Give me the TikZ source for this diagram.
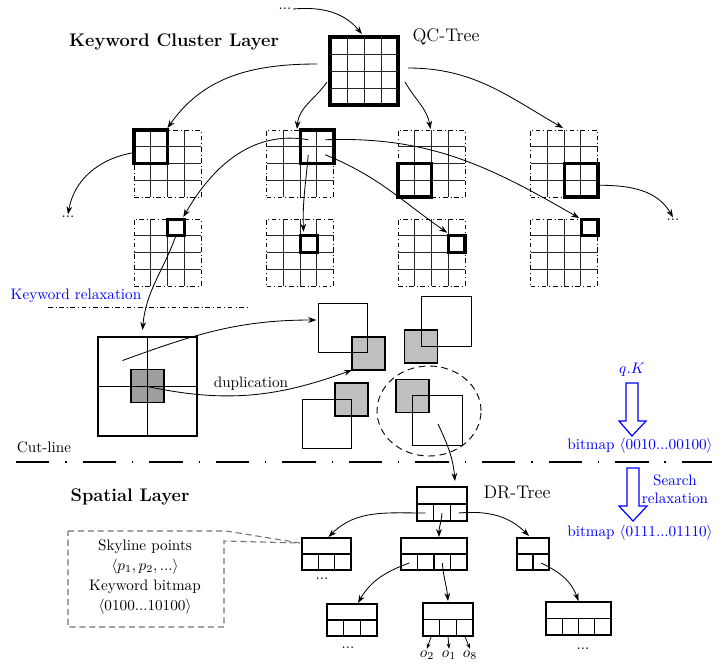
\documentclass[tikz,border=0pt]{standalone}
\usetikzlibrary{arrows.meta,calc,shapes.geometric}
\def\PX{0.658pt}
\tikzset{
  arr/.style={-{Stealth[length=5.3pt,width=3.8pt]}, line width=0.55pt},
  arrsmall/.style={-{Stealth[length=3.5pt,width=2.6pt]}, line width=0.5pt},
  gline/.style={line width=0.6pt, black!85},
  gbox/.style={draw, dashdotted, line width=0.6pt, minimum size=67*\PX, inner sep=0pt, outer sep=0pt},
  qcbox/.style={draw, line width=2pt, minimum size=68*\PX, inner sep=0pt, outer sep=0pt},
  tsq/.style={draw, line width=2pt, minimum size=33.5*\PX, inner sep=0pt, outer sep=0pt},
  csq/.style={draw, line width=2pt, minimum size=16.75*\PX, inner sep=0pt, outer sep=0pt},
  bsbox/.style={draw, line width=1.4pt, minimum size=99*\PX, inner sep=0pt, outer sep=0pt},
  gsq/.style={draw, fill=black!25, line width=0.7pt, minimum size=33*\PX, inner sep=0pt, outer sep=0pt},
  wsq/.style={draw, line width=0.7pt, minimum size=49.5*\PX, inner sep=0pt, outer sep=0pt},
  drbox/.style={draw, line width=0.7pt, inner sep=0pt, outer sep=0pt},
  dotsnode/.style={inner sep=1pt},
  callout/.style={draw=black!55, dash pattern=on 4pt off 2.5pt, line width=0.7pt},
  cutline/.style={line width=0.8pt, dash pattern=on 22pt off 10.5pt on 0.8pt off 10.5pt},
  hollow/.style={draw=blue, line width=0.8pt},
}
\newcommand\qgridlines[1]{%
  \foreach \k in {0.25,0.5,0.75}{%
    \draw[gline] ($(#1.north west)!\k!(#1.north east)$) -- ($(#1.south west)!\k!(#1.south east)$);
    \draw[gline] ($(#1.north west)!\k!(#1.south west)$) -- ($(#1.north east)!\k!(#1.south east)$);
  }}
\newcommand\drcells[2]{%
  \draw[line width=0.7pt] (#1.west) -- (#1.east);
  \pgfmathtruncatemacro\drm{#2-1}%
  \foreach \k in {1,...,\drm}{%
    \draw[line width=0.7pt] ($(#1.south west)!{\k/#2}!(#1.south east)$) -- ($(#1.west)!{\k/#2}!(#1.east)$);
  }}
\begin{document}
\begin{tikzpicture}[x=0.658pt,y=-0.658pt]
\useasboundingbox (0,0) rectangle (723,663);

% ---------- Keyword cluster layer ----------
\node[font=\large\bfseries] (kcl) at (174,42) {Keyword Cluster Layer};
\node[font=\large] (qct) at (446,37) {QC-Tree};
\node[dotsnode] (dtop) at (285,9) {...};

\node[qcbox] (qc) at (364,71) {};
\qgridlines{qc}

% level 1 grids
\node[gbox] (g1) at (167.5,163.5) {};
\node[gbox] (g2) at (300,163.5) {};
\node[gbox] (g3) at (431.5,163.5) {};
\node[gbox] (g4) at (564,163.5) {};
\qgridlines{g1}\qgridlines{g2}\qgridlines{g3}\qgridlines{g4}
\node[tsq] (t1) at (150.75,146.75) {};
\node[tsq] (t2) at (317.25,146.75) {};
\node[tsq] (t3) at (414.75,180.25) {};
\node[tsq] (t4) at (581.25,180.25) {};

% level 2 grids
\node[gbox] (h1) at (167.5,252.5) {};
\node[gbox] (h2) at (300,252.5) {};
\node[gbox] (h3) at (431.5,252.5) {};
\node[gbox] (h4) at (564,252.5) {};
\qgridlines{h1}\qgridlines{h2}\qgridlines{h3}\qgridlines{h4}
\node[csq] (c1) at (175.9,227.4) {};
\node[csq] (c2) at (308.9,244.1) {};
\node[csq] (c3) at (456.6,244.1) {};
\node[csq] (c4) at (589.6,227.4) {};

\node[dotsnode] (dleft) at (68,217) {...};
\node[dotsnode] (dright) at (673,220) {...};

% arrows keyword layer
\draw[arr] (dtop.east) to[out=5,in=130] ($(qc.north)+(-2,-3)$);
\draw[arr] ($(qc.west)+(-13,-7)$) to[out=180,in=55] ($(t1.north east)+(0,-2)$);
\draw[arr] ($(qc.west)+(-3,11)$) to[out=235,in=85] ($(g2.north)+(-3,-1)$);
\draw[arr] ($(qc.east)+(7,11)$) to[out=-60,in=100] ($(g3.north)+(-1,-1)$);
\draw[arr] ($(qc.east)+(10,-3)$) to[out=0,in=150] ($(g4.north)+(-1,-2)$);

\draw[arr] ($(t1.west)+(-1,6)$) to[out=190,in=80] (dleft.north);
\draw[arr] ($(t4.east)+(1,5)$) to[out=0,in=120] (dright.north);

\coordinate (t2a) at ($(t2.center)+(-9,-7)$);
\coordinate (t2b) at ($(t2.center)+(8,-7)$);
\coordinate (t2c) at ($(t2.center)+(-9,8)$);
\coordinate (t2d) at ($(t2.center)+(8,8)$);
\draw[arr] (t2a) to[out=170,in=60] ($(c1.north east)+(-1,-2)$);
\draw[arr] (t2c) to[out=-95,in=92] ($(c2.north west)+(3,-4)$);
\draw[arr] (t2b) to[out=2,in=150] ($(c4.north west)+(-2,-1)$);
\draw[arr] (t2d) to[out=-22,in=145] ($(c3.north west)+(-1,-3)$);

% keyword relaxation
\node[blue] (kr) at (76,296) {Keyword relaxation};
\coordinate (kl1) at (48,307);
\coordinate (kl2) at (247,307);
\draw[dashdotted, line width=0.55pt] (kl1) -- (kl2);

% big square
\node[bsbox] (bs) at (147.5,386.5) {};
\node[draw, fill=black!38, line width=0.7pt, minimum size=33*\PX, inner sep=0pt] (bsg) at (147.5,386) {};
\draw[line width=0.6pt] (bs.north) -- (bs.south);
\draw[line width=0.6pt] (bs.west) -- (bs.east);
\draw[arr] (c1.south) to[out=250,in=85] ($(bs.north)+(-5,-7)$);

% duplicated squares
\node[gsq] (sqAg) at (368.5,353.5) {};
\node[wsq] (sqA) at (343,328) {};
\node[gsq] (sqBg) at (421,346.5) {};
\node[wsq] (sqB) at (446.5,321.5) {};
\node[gsq] (sqCg) at (351.5,399.5) {};
\node[wsq] (sqC) at (327,424) {};
\node[gsq] (sqDg) at (412.5,396) {};
\node[wsq] (sqD) at (437.5,420.5) {};
\node[ellipse, draw, dash pattern=on 4.5pt off 3pt, line width=0.6pt, minimum width=104*\PX, minimum height=90*\PX, inner sep=0pt] (ell) at (429,411) {};

\draw[arr] ($(bs.center)+(-25,-26)$) to[out=20,in=180] ($(sqA.west)+(-2,-8)$);
\draw[arr] (bs.center) to[out=-12,in=200] (sqAg.south west);
\node (dup) at (251,384) {duplication};

% cut line
\node (cut) at (44,447) {Cut-line};
\coordinate (cl1) at (16,462);
\coordinate (cl2) at (712,462);
\draw[cutline] (cl1) -- (cl2);

% blue query side
\node[blue] (qk) at (632,370) {$q.K$};
\node[blue] (bm1) at (640,446) {bitmap $\langle$0010...00100$\rangle$};
\node[blue, align=center] (sr) at (675,489) {Search\\relaxation};
\node[blue] (bm2) at (640,533) {bitmap $\langle$0111...01110$\rangle$};
\draw[hollow] (626,383) -- (638,383) -- (638,421) -- (646,421) -- (632,436) -- (619,421) -- (626,421) -- cycle;
\draw[hollow] (627,468) -- (639,468) -- (639,506) -- (647,506) -- (633,521) -- (619,506) -- (627,506) -- cycle;

% ---------- Spatial layer ----------
\node[font=\large\bfseries] (sl) at (130,497) {Spatial Layer};
\node[font=\large] (drt) at (517,492) {DR-Tree};

\node[drbox, minimum width=50*\PX, minimum height=34*\PX] (root) at (442,504) {};
\node[drbox, minimum width=49*\PX, minimum height=32*\PX] (n1) at (326.5,554) {};
\node[drbox, minimum width=66*\PX, minimum height=32*\PX] (n2) at (434,554) {};
\node[drbox, minimum width=32*\PX, minimum height=32*\PX] (n3) at (533,554) {};
\node[drbox, minimum width=50*\PX, minimum height=32*\PX] (m1) at (352,620) {};
\node[drbox, minimum width=50*\PX, minimum height=33*\PX] (m2) at (448,619.5) {};
\node[drbox, minimum width=65*\PX, minimum height=33*\PX] (m3) at (578.5,618.5) {};
\drcells{root}{3}
\drcells{n1}{3}
\drcells{n2}{4}
\drcells{n3}{2}
\drcells{m1}{3}
\drcells{m2}{3}
\drcells{m3}{4}

\draw[arr] ($(sqD.center)+(0.5,3.5)$) to[out=-65,in=95] ($(root.north)+(13,-6)$);

\draw[arr] ($(root.south west)!{1/6}!(root.south east)+(0,-8)$) to[out=180,in=45] ($(n1.north)+(2,-1)$);
\draw[arr] ($(root.south west)!{1/2}!(root.south east)+(0,-8)$) to[out=-95,in=90] ($(n2.north)+(5,-1)$);
\draw[arr] ($(root.south west)!{5/6}!(root.south east)+(0,-8)$) to[out=5,in=135] ($(n3.north)+(-4,-2)$);
\draw[arr] ($(n2.south west)!{1/8}!(n2.south east)+(0,-7)$) to[out=200,in=60] ($(m1.north)+(6,-1)$);
\draw[arr] ($(n2.south west)!{5/8}!(n2.south east)+(0,-7)$) to[out=-85,in=95] ($(m2.north)+(0,-2)$);
\draw[arr] ($(n3.south west)!{3/4}!(n3.south east)+(0,-7)$) to[out=-25,in=110] ($(m3.north)+(0,-1)$);

\node[dotsnode] (dn1) at (322,579) {...};
\node[dotsnode] (dm1) at (348,648) {...};
\node[dotsnode] (dm3) at (583,649) {...};

\node[inner sep=1pt] (o2) at (427,655) {$o_2$};
\node[inner sep=1pt] (o1) at (449,655) {$o_1$};
\node[inner sep=1pt] (o8) at (470,655) {$o_8$};
\draw[arrsmall] ($(m2.south west)!{1/6}!(m2.south east)$) -- (o2.north);
\draw[arrsmall] ($(m2.south west)!{1/2}!(m2.south east)$) -- (o1.north);
\draw[arrsmall] ($(m2.south west)!{5/6}!(m2.south east)$) -- (o8.north);

% callout
\draw[callout] (68,531) -- (226,531) -- ($(n1.north west)+(-2,5)$) -- (224,541) -- (224,627) -- (68,627) -- cycle;
\node[align=center] (cnote) at (145,577) {Skyline points\\[1.2pt]$\langle p_1, p_2, ...\rangle$\\[1.2pt]Keyword bitmap\\[1.2pt]$\langle$0100...10100$\rangle$};
\end{tikzpicture}
\end{document}
